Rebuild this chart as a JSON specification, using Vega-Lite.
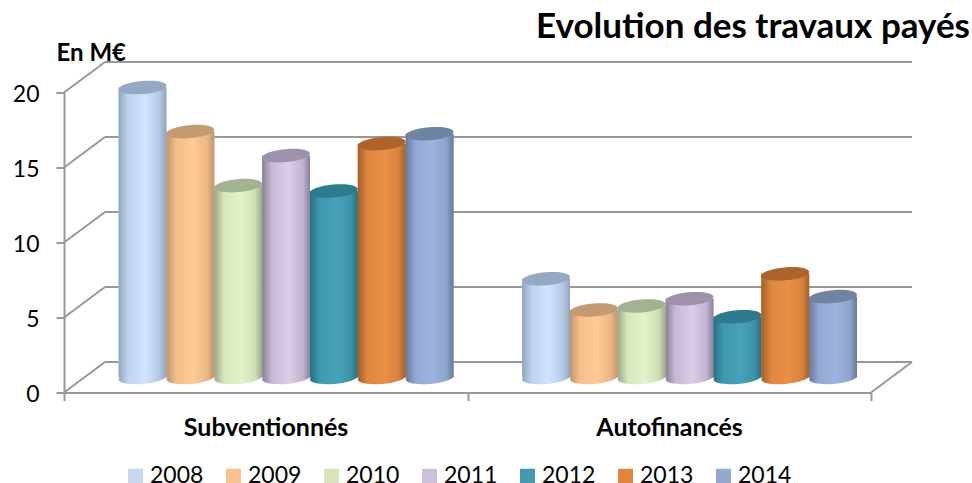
{"$schema":"https://vega.github.io/schema/vega-lite/v6.json","width":807,"height":300,"autosize":"none","padding":{"left":64,"top":92.5,"right":101,"bottom":90.5},"background":"white","title":{"text":"Evolution des travaux payés","anchor":"end","frame":"group","dx":99,"dy":3,"offset":0,"font":"Lato","fontSize":35,"fontWeight":"bold","color":"#000000"},"config":{"view":{"stroke":null},"font":"Lato"},"data":{"values":[{"cat":"Subventionnés","year":"2008","val":19.33},{"cat":"Subventionnés","year":"2009","val":16.39},{"cat":"Subventionnés","year":"2010","val":12.79},{"cat":"Subventionnés","year":"2011","val":14.79},{"cat":"Subventionnés","year":"2012","val":12.43},{"cat":"Subventionnés","year":"2013","val":15.59},{"cat":"Subventionnés","year":"2014","val":16.25},{"cat":"Autofinancés","year":"2008","val":6.58},{"cat":"Autofinancés","year":"2009","val":4.5},{"cat":"Autofinancés","year":"2010","val":4.77},{"cat":"Autofinancés","year":"2011","val":5.25},{"cat":"Autofinancés","year":"2012","val":4.05},{"cat":"Autofinancés","year":"2013","val":6.91},{"cat":"Autofinancés","year":"2014","val":5.39}]},"resolve":{"scale":{"x":"independent"},"axis":{"x":"independent"}},"layer":[{"data":{"values":[{"v":0},{"v":5},{"v":10},{"v":15},{"v":20}]},"layer":[{"mark":{"type":"rule","color":"#989898","strokeWidth":2,"xOffset":41,"x2Offset":41,"yOffset":-30.5,"y2Offset":-30.5},"encoding":{"x":{"datum":0,"type":"quantitative","scale":{"domain":[0,1],"nice":false},"axis":{"orient":"bottom","values":[0,0.5,1],"labels":false,"title":null,"grid":false,"domainColor":"#989898","domainWidth":2,"tickColor":"#989898","tickWidth":2,"tickSize":8}},"x2":{"datum":1},"y":{"field":"v","type":"quantitative","scale":{"domain":[0,20],"nice":false},"axis":{"values":[0,5,10,15,20],"grid":false,"domainColor":"#989898","domainWidth":2,"tickColor":"#989898","tickWidth":2,"tickSize":8,"labelFontSize":23,"labelFont":"Lato","labelColor":"#000000","labelPadding":17,"labelOffset":2,"title":"En M€","titleAngle":0,"titleX":-8,"titleY":-32,"titleAlign":"left","titleBaseline":"alphabetic","titleFont":"Lato","titleFontSize":24,"titleFontWeight":"bold","titleColor":"#000000"}},"y2":{"field":"v"}}},{"mark":{"type":"rule","color":"#989898","strokeWidth":2,"x2Offset":41,"y2Offset":-30.5},"encoding":{"x":{"datum":0,"type":"quantitative"},"x2":{"datum":0},"y":{"field":"v","type":"quantitative"},"y2":{"field":"v"}}},{"transform":[{"filter":"datum.v===0"}],"mark":{"type":"rule","color":"#989898","strokeWidth":2,"x2Offset":41,"y2Offset":-30.5},"encoding":{"x":{"datum":1,"type":"quantitative"},"x2":{"datum":1},"y":{"field":"v","type":"quantitative"},"y2":{"field":"v"}}}]},{"resolve":{"scale":{"fill":"independent"}},"encoding":{"x":{"field":"cat","type":"nominal","sort":["Subventionnés","Autofinancés"],"scale":{"paddingInner":0.17,"paddingOuter":0.085,"align":0.796},"axis":{"orient":"bottom","title":null,"labelAngle":0,"domain":false,"ticks":false,"labelOffset":-20,"labelFont":"Lato","labelFontSize":25,"labelFontWeight":"bold","labelColor":"#000000","labelPadding":23}},"xOffset":{"field":"year","type":"nominal","scale":{"domain":["2008","2009","2010","2011","2012","2013","2014"],"paddingInner":0,"paddingOuter":0}},"y":{"field":"val","type":"quantitative","stack":null}},"layer":[{"mark":{"type":"bar","yOffset":-15,"y2Offset":-15},"encoding":{"y2":{"datum":0},"fill":{"field":"year","type":"nominal","scale":{"domain":["2008","2009","2010","2011","2012","2013","2014"],"range":["#c6d9f0","#fac090","#d7e4bd","#ccc1da","#4299b0","#e0853d","#95a9d0"]},"legend":{"title":null,"orient":"none","legendX":60,"legendY":372,"direction":"horizontal","columns":7,"symbolType":"square","symbolSize":225,"symbolStrokeWidth":0,"labelFont":"Lato","labelFontSize":23,"labelColor":"#000000","labelOffset":3,"columnPadding":18}}}},{"transform":[{"filter":"datum.year==='2008'"}],"layer":[{"mark":{"type":"point","shape":"M-1,0A1,0.27,0,1,1,1,0A1,0.27,0,1,1,-1,0Z","filled":true,"opacity":1,"size":2304,"angle":-5,"yOffset":-15,"fill":{"gradient":"linear","x1":0,"x2":1,"y1":0,"y2":0,"stops":[{"offset":0,"color":"#8fa5c0"},{"offset":0.2,"color":"#bfd3ec"},{"offset":0.55,"color":"#cfe4ff"},{"offset":0.85,"color":"#b5c9e2"},{"offset":1,"color":"#8fa5c0"}]}},"encoding":{"y":{"datum":0,"type":"quantitative"}}},{"mark":{"type":"bar","yOffset":-15,"y2Offset":-15,"fill":{"gradient":"linear","x1":0,"x2":1,"y1":0,"y2":0,"stops":[{"offset":0,"color":"#8fa5c0"},{"offset":0.2,"color":"#bfd3ec"},{"offset":0.55,"color":"#cfe4ff"},{"offset":0.85,"color":"#b5c9e2"},{"offset":1,"color":"#8fa5c0"}]}},"encoding":{"y2":{"datum":0}}}]},{"transform":[{"filter":"datum.year==='2009'"}],"layer":[{"mark":{"type":"point","shape":"M-1,0A1,0.27,0,1,1,1,0A1,0.27,0,1,1,-1,0Z","filled":true,"opacity":1,"size":2304,"angle":-5,"yOffset":-15,"fill":{"gradient":"linear","x1":0,"x2":1,"y1":0,"y2":0,"stops":[{"offset":0,"color":"#c0946c"},{"offset":0.2,"color":"#f4bd8a"},{"offset":0.55,"color":"#ffcb96"},{"offset":0.85,"color":"#eab885"},{"offset":1,"color":"#c0946c"}]}},"encoding":{"y":{"datum":0,"type":"quantitative"}}},{"mark":{"type":"bar","yOffset":-15,"y2Offset":-15,"fill":{"gradient":"linear","x1":0,"x2":1,"y1":0,"y2":0,"stops":[{"offset":0,"color":"#c0946c"},{"offset":0.2,"color":"#f4bd8a"},{"offset":0.55,"color":"#ffcb96"},{"offset":0.85,"color":"#eab885"},{"offset":1,"color":"#c0946c"}]}},"encoding":{"y2":{"datum":0}}}]},{"transform":[{"filter":"datum.year==='2010'"}],"layer":[{"mark":{"type":"point","shape":"M-1,0A1,0.27,0,1,1,1,0A1,0.27,0,1,1,-1,0Z","filled":true,"opacity":1,"size":2304,"angle":-5,"yOffset":-15,"fill":{"gradient":"linear","x1":0,"x2":1,"y1":0,"y2":0,"stops":[{"offset":0,"color":"#98a98a"},{"offset":0.2,"color":"#d6e6bc"},{"offset":0.55,"color":"#e4f3ca"},{"offset":0.85,"color":"#d0deb4"},{"offset":1,"color":"#98a98a"}]}},"encoding":{"y":{"datum":0,"type":"quantitative"}}},{"mark":{"type":"bar","yOffset":-15,"y2Offset":-15,"fill":{"gradient":"linear","x1":0,"x2":1,"y1":0,"y2":0,"stops":[{"offset":0,"color":"#98a98a"},{"offset":0.2,"color":"#d6e6bc"},{"offset":0.55,"color":"#e4f3ca"},{"offset":0.85,"color":"#d0deb4"},{"offset":1,"color":"#98a98a"}]}},"encoding":{"y2":{"datum":0}}}]},{"transform":[{"filter":"datum.year==='2011'"}],"layer":[{"mark":{"type":"point","shape":"M-1,0A1,0.27,0,1,1,1,0A1,0.27,0,1,1,-1,0Z","filled":true,"opacity":1,"size":2304,"angle":-5,"yOffset":-15,"fill":{"gradient":"linear","x1":0,"x2":1,"y1":0,"y2":0,"stops":[{"offset":0,"color":"#8a7f98"},{"offset":0.2,"color":"#c7b9d3"},{"offset":0.55,"color":"#dccce8"},{"offset":0.85,"color":"#c2b4cf"},{"offset":1,"color":"#8a7f98"}]}},"encoding":{"y":{"datum":0,"type":"quantitative"}}},{"mark":{"type":"bar","yOffset":-15,"y2Offset":-15,"fill":{"gradient":"linear","x1":0,"x2":1,"y1":0,"y2":0,"stops":[{"offset":0,"color":"#8a7f98"},{"offset":0.2,"color":"#c7b9d3"},{"offset":0.55,"color":"#dccce8"},{"offset":0.85,"color":"#c2b4cf"},{"offset":1,"color":"#8a7f98"}]}},"encoding":{"y2":{"datum":0}}}]},{"transform":[{"filter":"datum.year==='2012'"}],"layer":[{"mark":{"type":"point","shape":"M-1,0A1,0.27,0,1,1,1,0A1,0.27,0,1,1,-1,0Z","filled":true,"opacity":1,"size":2304,"angle":-5,"yOffset":-15,"fill":{"gradient":"linear","x1":0,"x2":1,"y1":0,"y2":0,"stops":[{"offset":0,"color":"#27707f"},{"offset":0.2,"color":"#3f98ae"},{"offset":0.55,"color":"#47a3bb"},{"offset":0.85,"color":"#3d93a9"},{"offset":1,"color":"#27707f"}]}},"encoding":{"y":{"datum":0,"type":"quantitative"}}},{"mark":{"type":"bar","yOffset":-15,"y2Offset":-15,"fill":{"gradient":"linear","x1":0,"x2":1,"y1":0,"y2":0,"stops":[{"offset":0,"color":"#27707f"},{"offset":0.2,"color":"#3f98ae"},{"offset":0.55,"color":"#47a3bb"},{"offset":0.85,"color":"#3d93a9"},{"offset":1,"color":"#27707f"}]}},"encoding":{"y2":{"datum":0}}}]},{"transform":[{"filter":"datum.year==='2013'"}],"layer":[{"mark":{"type":"point","shape":"M-1,0A1,0.27,0,1,1,1,0A1,0.27,0,1,1,-1,0Z","filled":true,"opacity":1,"size":2304,"angle":-5,"yOffset":-15,"fill":{"gradient":"linear","x1":0,"x2":1,"y1":0,"y2":0,"stops":[{"offset":0,"color":"#a65e26"},{"offset":0.2,"color":"#dc8740"},{"offset":0.55,"color":"#eb8f45"},{"offset":0.85,"color":"#d6833f"},{"offset":1,"color":"#a65e26"}]}},"encoding":{"y":{"datum":0,"type":"quantitative"}}},{"mark":{"type":"bar","yOffset":-15,"y2Offset":-15,"fill":{"gradient":"linear","x1":0,"x2":1,"y1":0,"y2":0,"stops":[{"offset":0,"color":"#a65e26"},{"offset":0.2,"color":"#dc8740"},{"offset":0.55,"color":"#eb8f45"},{"offset":0.85,"color":"#d6833f"},{"offset":1,"color":"#a65e26"}]}},"encoding":{"y2":{"datum":0}}}]},{"transform":[{"filter":"datum.year==='2014'"}],"layer":[{"mark":{"type":"point","shape":"M-1,0A1,0.27,0,1,1,1,0A1,0.27,0,1,1,-1,0Z","filled":true,"opacity":1,"size":2304,"angle":-5,"yOffset":-15,"fill":{"gradient":"linear","x1":0,"x2":1,"y1":0,"y2":0,"stops":[{"offset":0,"color":"#65799a"},{"offset":0.2,"color":"#91a9d2"},{"offset":0.55,"color":"#9cb4df"},{"offset":0.85,"color":"#8da4cc"},{"offset":1,"color":"#65799a"}]}},"encoding":{"y":{"datum":0,"type":"quantitative"}}},{"mark":{"type":"bar","yOffset":-15,"y2Offset":-15,"fill":{"gradient":"linear","x1":0,"x2":1,"y1":0,"y2":0,"stops":[{"offset":0,"color":"#65799a"},{"offset":0.2,"color":"#91a9d2"},{"offset":0.55,"color":"#9cb4df"},{"offset":0.85,"color":"#8da4cc"},{"offset":1,"color":"#65799a"}]}},"encoding":{"y2":{"datum":0}}}]},{"mark":{"type":"point","shape":"M-1,0A1,0.27,0,1,1,1,0A1,0.27,0,1,1,-1,0Z","filled":true,"opacity":1,"size":2304,"angle":-5,"yOffset":-15},"encoding":{"fill":{"field":"year","type":"nominal","legend":null,"scale":{"domain":["2008","2009","2010","2011","2012","2013","2014"],"range":["#93a9c4","#c49a72","#a2b391","#9d92aa","#2f7a8c","#ad642b","#6f83a3"]}}}}]}]}
